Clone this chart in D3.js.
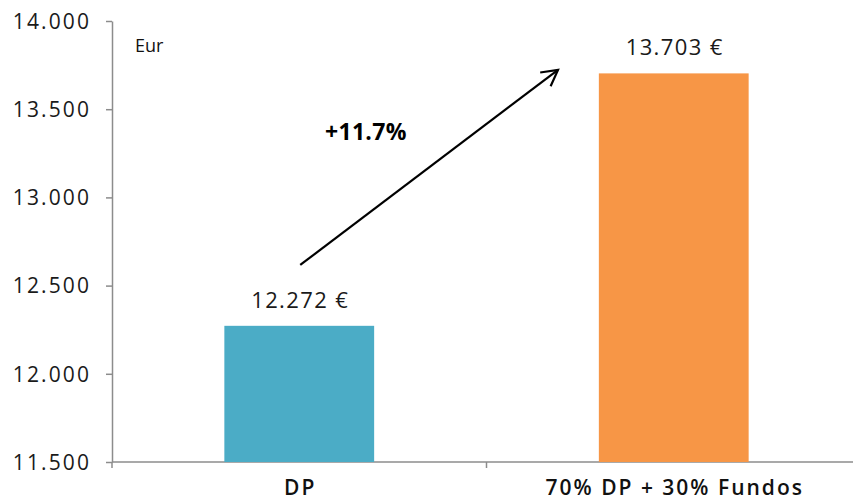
<!DOCTYPE html>
<html><head><meta charset="utf-8">
<script src="https://cdn.jsdelivr.net/npm/d3@7"></script>
<style>body{margin:0;background:#fff}svg{display:block;font-family:"Open Sans","Noto Sans",sans-serif}</style>
</head><body><svg id="c" width="853" height="502"></svg>
<script>
const categories = ["DP", "70% DP + 30% Fundos"];
const values = [12272, 13703];
const valueLabels = ["12.272 €", "13.703 €"];
const colors = ["#4BACC6", "#F79646"];
const yTicks = [11500, 12000, 12500, 13000, 13500, 14000];
const unitLabel = "Eur";
const growthLabel = "+11.7%";

const svg = d3.select("#c");
const m = {l:112, r:861, t:21, b:462};
const x = d3.scaleBand().domain(categories).range([m.l, m.r]).paddingInner(0.6).paddingOuter(0.3);
const y = d3.scaleLinear().domain([11500, 14000]).range([m.b, m.t]);
const tickFmt = d => { const s = String(d); return s.slice(0, s.length-3) + "." + s.slice(-3); };

// y axis
const ya = svg.append("g").attr("transform", `translate(${m.l},0)`)
  .call(d3.axisLeft(y).tickValues(yTicks).tickFormat(tickFmt).tickSize(6).tickSizeOuter(0));
ya.select(".domain").attr("stroke", "#8c8c8c").attr("stroke-width", 1.5);
ya.selectAll(".tick line").attr("stroke", "#8c8c8c").attr("stroke-width", 1.5);
ya.selectAll("text").attr("font-size", 21).attr("letter-spacing", 2.1).attr("fill", "#1a1a1a")
  .attr("x", -21).attr("dy", "0.35em")
  .attr("font-family", "'Open Sans','Noto Sans',sans-serif");

// x axis
const xa = svg.append("g").attr("transform", `translate(0,${m.b})`);
xa.append("line").attr("x1", m.l).attr("x2", m.r).attr("stroke", "#8c8c8c").attr("stroke-width", 1.5);
const bounds = [m.l, x(categories[1]) - x.step()*x.paddingInner()/2, m.r];
xa.selectAll(".xt").data(bounds).join("line").attr("x1", d=>d).attr("x2", d=>d).attr("y1", 0).attr("y2", 6)
  .attr("stroke", "#8c8c8c").attr("stroke-width", 1.5);

// bars
svg.selectAll(".bar").data(values).join("rect")
  .attr("x", (d,i) => x(categories[i])).attr("width", x.bandwidth())
  .attr("y", d => y(d)).attr("height", d => y(11500) - y(d))
  .attr("fill", (d,i) => colors[i]);

// value labels
svg.selectAll(".vl").data(values).join("text")
  .attr("x", (d,i) => x(categories[i]) + x.bandwidth()/2 + 1).attr("y", d => y(d) - 18)
  .attr("text-anchor", "middle").attr("font-size", 22).attr("letter-spacing", 1.4).attr("fill", "#1a1a1a")
  .text((d,i) => valueLabels[i]);

// category labels
svg.selectAll(".cl").data(categories).join("text")
  .attr("x", d => x(d) + x.bandwidth()/2 + 1).attr("y", 495)
  .attr("text-anchor", "middle").attr("font-size", 21).attr("font-weight", 600).attr("letter-spacing", 2)
  .attr("fill", "#111")
  .text(d => d);

// unit label
svg.append("text").attr("x", 135).attr("y", 52).attr("font-size", 18).attr("fill", "#111").text(unitLabel);

// arrow
const x0 = x(categories[0]) + x.bandwidth()/2 + 1, y0 = y(12617);
const x1 = 558, y1 = y(13723);
svg.append("line").attr("x1", x0).attr("y1", y0).attr("x2", x1).attr("y2", y1)
  .attr("stroke", "#000").attr("stroke-width", 2.2);
const ang = Math.atan2(y1 - y0, x1 - x0);
const hl = 18, ha = 0.5;
const p1 = [x1 - hl*Math.cos(ang - ha), y1 - hl*Math.sin(ang - ha)];
const p2 = [x1 - hl*Math.cos(ang + ha), y1 - hl*Math.sin(ang + ha)];
svg.append("path").attr("d", `M${p1}L${x1},${y1}L${p2}`).attr("fill", "none")
  .attr("stroke", "#000").attr("stroke-width", 2.2).attr("stroke-linejoin", "miter");

svg.append("text").attr("x", 325).attr("y", 140).attr("font-size", 23).attr("font-weight", 700)
  .attr("letter-spacing", 0.3).attr("fill", "#000").text(growthLabel);
</script></body></html>
